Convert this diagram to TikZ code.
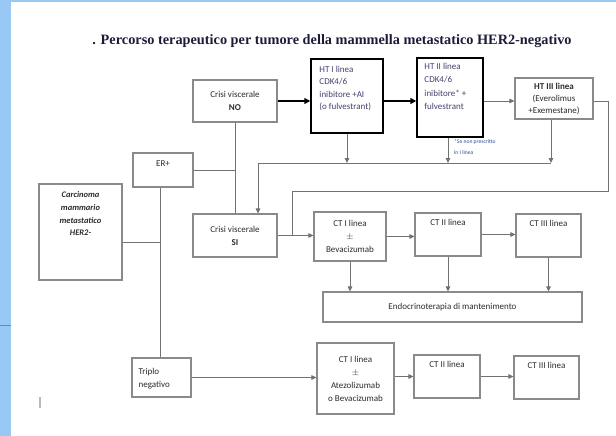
\documentclass[tikz,border=0pt]{standalone}
\usepackage{fontspec}
\setmainfont{Carlito}
\newfontfamily\titolo{Liberation Serif}
\usetikzlibrary{arrows.meta}

\definecolor{bordo}{HTML}{8A8A8A}
\definecolor{linea}{HTML}{727272}
\definecolor{testo}{HTML}{2C2C2C}
\definecolor{viola}{HTML}{4A3F6E}
\definecolor{nota}{HTML}{2C4C96}
\definecolor{blutitolo}{HTML}{1C1C3A}
\definecolor{striscia}{HTML}{98C8F4}

\begin{document}
\begin{tikzpicture}[x=1pt, y=-1pt]
        \tikzstyle{scatola}=[draw=bordo, line width=1.1pt, fill=white, inner sep=0, align=center, text=testo, font=\fontsize{9}{13}\selectfont];
        \tikzstyle{spessa}=[scatola, draw=black, line width=1.5pt];
        \tikzstyle{scritta}=[inner sep=0, text=testo, font=\fontsize{9}{13}\selectfont];
        \tikzstyle{filo}=[draw=linea, line width=0.9pt];
        \tikzstyle{freccia}=[filo, -{Triangle[length=5pt, width=4.5pt]}];
        \tikzstyle{grossa}=[draw=black, line width=2pt, -{Triangle[length=6pt, width=6pt]}];

        % sfondo della pagina
        \useasboundingbox (0,0) rectangle (616,436);
        \fill[white] (0,0) rectangle (616,436);
        \fill[striscia] (0,0) rectangle (11,436);
        \fill[striscia] (0,0) rectangle (616,2);
        \draw[striscia!70!black, line width=0.8pt] (0,325) -- (11,325);
        \draw[bordo!60, line width=1.2pt] (40,397) -- (40,408);

        \node[font=\titolo\bfseries\fontsize{14.3}{16}\selectfont, text=blutitolo] (titolo) at (332,41)
          {. Percorso terapeutico per tumore della mammella metastatico HER2-negativo};

        % scatole
        \node[scatola, minimum width=83pt, minimum height=96pt] (carc) at (80.5,232) {};
        \node[scritta, anchor=north, align=center, font=\itshape\bfseries\fontsize{8.5}{12.7}\selectfont] (carc-t)
          at ([yshift=-8pt]carc.north) {Carcinoma\\mammario\\metastatico\\HER2-};
        \node[scatola, minimum width=60pt, minimum height=34pt] (er) at (163,170) {};
        \node[scritta, anchor=north] (er-t) at ([yshift=-8pt]er.north) {ER+};
        \node[scatola, minimum width=84pt, minimum height=42pt] (cvno) at (235,101) {Crisi viscerale\\\textbf{NO}};
        \node[scatola, minimum width=84pt, minimum height=43pt] (cvsi) at (235,235.5) {Crisi viscerale\\\textbf{SI}};
        \node[spessa, minimum width=72pt, minimum height=74pt] (ht1) at (347,96) {};
        \node[scritta, anchor=north west, align=left, text=viola, font=\fontsize{9}{12.3}\selectfont] (ht1-t)
          at ([xshift=9pt, yshift=-8pt]ht1.north west) {HT I linea\\CDK4/6\\inibitore +AI\\(o fulvestrant)};
        \node[spessa, minimum width=66pt, minimum height=79pt] (ht2) at (450,97.5) {};
        \node[scritta, anchor=north west, align=left, text=viola, font=\fontsize{9}{13.3}\selectfont] (ht2-t)
          at ([xshift=8pt, yshift=-6pt]ht2.north west) {HT II linea\\CDK4/6\\inibitore* +\\fulvestrant};
        \node[scritta, anchor=north west, align=left, text=nota, font=\fontsize{5.6}{11}\selectfont] (ht2-n)
          at (454,139.5) {*Se non prescritto\\in I linea};
        \node[scatola, minimum width=78pt, minimum height=41pt, font=\fontsize{9}{12}\selectfont] (ht3) at (554,98.5)
          {\textbf{HT III linea}\\(Everolimus\\+Exemestane)};
        \node[scatola, minimum width=72pt, minimum height=49pt] (ct1a) at (350,236.5) {CT I linea\\$\pm$\\Bevacizumab};
        \node[scatola, minimum width=66pt, minimum height=43pt] (ct2a) at (448,234.5) {};
        \node[scritta, anchor=north] (ct2a-t) at ([yshift=-7pt]ct2a.north) {CT II linea};
        \node[scatola, minimum width=65pt, minimum height=43pt] (ct3a) at (548.5,235.5) {};
        \node[scritta, anchor=north] (ct3a-t) at ([yshift=-7pt]ct3a.north) {CT III linea};
        \node[scatola, minimum width=259pt, minimum height=30pt] (endo) at (452.5,307) {Endocrinoterapia di mantenimento};
        \node[scatola, minimum width=59pt, minimum height=39pt] (tn) at (161.5,377.5) {};
        \node[scritta, anchor=west, align=left] (tn-t) at ([xshift=7pt, yshift=-1pt]tn.west) {Triplo\\negativo};
        \node[scatola, minimum width=77pt, minimum height=71pt] (ct1b) at (355.5,378.5) {CT I linea\\$\pm$\\Atezolizumab\\o Bevacizumab};
        \node[scatola, minimum width=66pt, minimum height=43pt] (ct2b) at (447,376.5) {};
        \node[scritta, anchor=north] (ct2b-t) at ([yshift=-7pt]ct2b.north) {CT II linea};
        \node[scatola, minimum width=65pt, minimum height=43pt] (ct3b) at (546.5,377.5) {};
        \node[scritta, anchor=north] (ct3b-t) at ([yshift=-7pt]ct3b.north) {CT III linea};

        % punti di snodo
        \coordinate (nodo) at (160,242);
        \coordinate (raccoltaS) at (258,163);
        \coordinate (raccoltaD) at (551,163);
        \coordinate (discesa2) at (448,163);
        \coordinate (ansa) at (608,191);
        \coordinate (ritorno) at (292,191);

        % ramo ER+
        \draw[filo] (carc.east |- nodo) -- (nodo);
        \draw[filo] (nodo |- er.south) -- (nodo |- tn.north);
        \draw[filo] (er.east) -- (er.east -| cvno.south);
        \draw[filo] (cvno.south) -- (cvsi.north);

        % ormonoterapia
        \draw[grossa] (cvno.east) -- (cvno.east -| ht1.west);
        \draw[grossa] (cvno.east -| ht1.east) -- (cvno.east -| ht2.west);
        \draw[freccia] (cvno.east -| ht2.east) -- (cvno.east -| ht3.west);
        \draw[freccia] (ht1.south) -- (ht1.south |- raccoltaS);
        \draw[freccia] (discesa2 |- ht2.south) -- (discesa2);
        \draw[freccia] (raccoltaD |- ht3.south) -- (raccoltaD);
        \draw[freccia] (raccoltaD) -- (raccoltaS) -- (raccoltaS |- cvsi.north);
        \draw[filo] (cvno.east -| ht3.east) -- (cvno.east -| ansa) -- (ansa) -- (ritorno) -- (ritorno |- cvsi.east);

        % chemioterapia
        \draw[freccia] (cvsi.east) -- (cvsi.east -| ct1a.west);
        \draw[freccia] (ct1a.east) -- (ct1a.east -| ct2a.west);
        \draw[freccia] (ct2a.east) -- (ct2a.east -| ct3a.west);
        \foreach \b in {ct1a, ct2a, ct3a}{
          \draw[freccia] (\b.south) -- (\b.south |- endo.north);
        }
        \draw[freccia] (tn.east) -- (tn.east -| ct1b.west);
        \draw[freccia] (ct2b.west -| ct1b.east) -- (ct2b.west);
        \draw[freccia] (ct2b.east) -- (ct2b.east -| ct3b.west);
\end{tikzpicture}
\end{document}
